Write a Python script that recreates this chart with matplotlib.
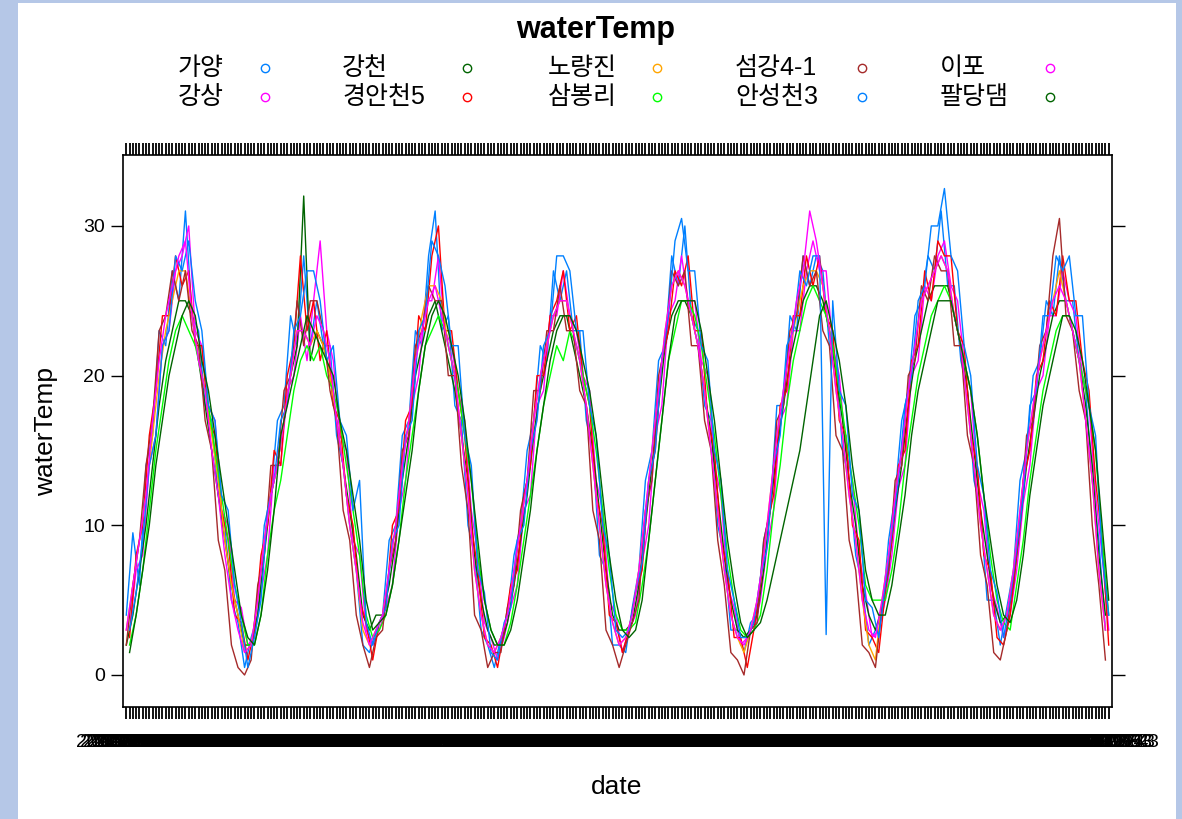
import matplotlib
matplotlib.use("Agg")
import matplotlib.pyplot as plt
from matplotlib.lines import Line2D
from matplotlib.patches import Rectangle
import numpy as np
import pandas as pd

plt.rcParams['font.family'] = ['Liberation Sans', 'Noto Sans CJK KR']

# factor levels of the date axis (every level gets a tick + label)
dates = pd.date_range("2012-03-05", "2019-12-23", periods=300).strftime("%Y-%m-%d")

# water temperature per station, one value every second date level
gayang = [4, 9.5, 6, 14, 16, 23, 22, 27, 25, 31, 24, 23, 18, 17, 12, 10, 5, 3.5, 0.5,
          2.5, 4, 10, 12, 17, 18, 24, 22, 28, 22, 25, 22, 22, 16, 14, 10, 7, 2, 1.5,
          3, 4, 9, 10, 16, 17, 23, 22, 28, 31, 23, 24, 18, 17, 10, 8, 3, 2, 0.5,
          2.5, 4, 8, 10, 15, 17, 22, 21, 27, 25, 27, 23, 23, 17, 15, 8, 7, 2, 2, 1.5,
          4.5, 7, 13, 15, 21, 22, 28, 26, 30, 24, 23, 18, 17, 10, 8, 3, 3, 1.5, 3.5,
          4, 9, 11, 18, 18, 24, 23, 28, 26, 28, 27, 22, 21, 15, 13, 8, 6, 2, 3, 4,
          9, 12, 17, 19, 24, 25, 28, 27, 31, 26, 26, 21, 19, 13, 11, 5, 5, 2, 4.5,
          7, 13, 15, 20, 21, 25, 24, 28, 25, 25, 21, 19, 13, 9, 3]
gangsang = [3, 7, 8, 14, 16, 22, 23, 27, 28, 30, 23, 22, 18, 17, 11, 10, 5, 4.5, 2,
            2.5, 5.5, 8, 14, 14, 19, 20, 24, 21, 25, 29, 23, 21, 16, 15, 9, 8, 3, 2,
            3, 4.5, 6, 11, 13, 18, 20, 25, 25, 28, 23, 22, 19, 17, 11, 8, 3.5, 2.5, 1,
            2.5, 4.5, 6, 11, 12, 18, 19, 24, 24, 27, 24, 23, 20, 19, 13, 11, 5, 4, 1.5, 3,
            4, 7.5, 10, 16, 18, 24, 25, 28, 25, 25, 21, 20, 14, 12, 6, 4.5, 2, 2.5, 3,
            5, 8.5, 11, 17, 18, 23, 23, 27, 29, 27, 27, 22, 20, 15, 13, 8, 5.5, 2.5, 3, 5,
            8, 12.5, 14, 20, 21, 26, 25, 28, 29, 26, 25, 21, 19, 13, 11, 6, 4.5, 2.5, 4,
            7, 11.5, 14, 19, 20, 24, 24, 27, 25, 24, 20, 18, 12, 8, 3]
gangcheon = [2, 4, 7, 10, 14, 18, 21, 23, 25, 25, 24, 21, 18, 15, 12, 9, 6, 4, 2,
             2, 4, 8, 12, 14, 17, 20, 22, 32, 21, 23, 22, 20, 17, 14, 11, 8, 4, 3,
             4, 4, 6, 9, 13, 16, 20, 22, 24, 25, 23, 21, 19, 16, 13, 8, 5, 3, 2,
             2, 3.5, 6, 9, 12, 16, 19, 21, 23, 24, 24, 22, 20, 18, 15, 11, 7, 4, 3, 3,
             3.5, 6, 10, 14, 18, 22, 24, 25, 25, 24, 22, 19, 16, 12, 8, 5, 3, 2.5, 3,
             4, 7, 11, 15, 18, 21, 23, 25, 26, 26, 25, 23, 20, 17, 13, 10, 6, 4, 3, 4.5,
             7, 11, 14, 18, 21, 23, 25, 26, 26, 26, 24, 22, 19, 15, 11, 8, 5, 3.5, 4,
             6, 10, 14, 17, 20, 22, 24, 25, 25, 23, 21, 18, 14, 8, 4]
gyeongan5 = [2.5, 8, 10, 16, 19, 24, 24, 28, 26, 27, 22, 22, 17, 16, 11, 9, 4, 3.5, 1,
             3, 8, 10, 15, 14, 20, 22, 28, 23, 25, 21, 23, 18, 17, 12, 10, 5, 3.5, 1,
             3.5, 4.5, 10, 11, 17, 18, 24, 23, 28, 30, 23, 23, 19, 16, 10, 7, 2.5, 2, 0.5,
             3, 6, 7, 12, 14, 20, 20, 24, 25, 27, 23, 24, 20, 18, 12, 10, 4, 3.5, 1.5, 3,
             5.5, 7, 13, 15, 21, 23, 27, 26, 28, 23, 23, 17, 15, 9, 7, 2.5, 2.5, 0.5, 3,
             6, 10, 12, 18, 19, 24, 24, 28, 26, 28, 24, 23, 17, 16, 10, 9, 3, 2.5, 1.5, 5.5,
             9, 14, 15, 21, 22, 27, 25, 29, 28, 28, 23, 22, 16, 14, 8, 7, 2.5, 2, 4,
             8, 13, 15, 20, 21, 25, 24, 28, 25, 25, 21, 19, 13, 9, 2]
noryangjin = [3, 6, 9, 12, 16, 20, 23, 25, 27, 27, 24, 21, 19, 16, 13, 9, 6, 4, 1.5,
              2, 5, 9, 12, 14, 17, 20, 23, 23, 22, 23, 22, 20, 17, 14, 10, 7, 3, 2,
              3, 4, 7, 10, 14, 17, 21, 24, 26, 26, 25, 22, 20, 16, 12, 7, 4, 2, 1.5,
              2.5, 4, 7, 10, 13, 17, 20, 22, 24, 25, 25, 23, 21, 18, 14, 10, 6, 3.5, 2, 2.5,
              4, 7, 11, 15, 19, 23, 26, 27, 26, 24, 22, 19, 15, 11, 7, 4, 2.5, 1.5, 3,
              5, 8, 12, 16, 19, 22, 24, 26, 27, 27, 26, 23, 19, 16, 12, 9, 5, 2, 1, 5,
              8, 12, 15, 19, 22, 25, 26, 27, 28, 27, 24, 22, 18, 14, 10, 7, 4, 3, 4,
              7, 11, 15, 18, 21, 23, 25, 27, 25, 23, 21, 17, 13, 7, 3]
sambong = [2, 4, 7, 11, 15, 18, 21, 23, 24, 23, 22, 20, 18, 15, 12, 9, 6, 4, 2,
           2, 4, 8, 11, 13, 16, 19, 21, 22, 21, 22, 20, 19, 17, 14, 11, 8, 4, 2.5,
           3, 4, 6, 9, 13, 16, 19, 22, 23, 24, 23, 21, 19, 16, 13, 8, 5, 3, 2,
           2, 3.5, 6, 9, 12, 15, 18, 20, 22, 21, 23, 22, 20, 18, 15, 11, 7, 4, 3, 3,
           3.5, 6, 9, 13, 17, 21, 23, 25, 25, 24, 22, 19, 16, 12, 8, 5, 3, 2.5, 3,
           4, 7, 11, 14, 18, 21, 23, 25, 26, 25, 24, 22, 19, 16, 13, 10, 6, 5, 5, 5,
           7, 10, 14, 17, 20, 22, 24, 25, 26, 25, 23, 21, 19, 16, 12, 8, 5, 3.5, 3,
           6, 9, 13, 16, 19, 21, 23, 24, 24, 22, 20, 18, 15, 9, 4]
seomgang41 = [2, 6, 9, 14, 17, 23, 24, 27, 25, 27, 23, 22, 17, 15, 9, 7, 2, 0.5, 0,
              1, 6, 8, 14, 14, 19, 20, 25, 22, 25, 25, 23, 19, 17, 11, 9, 4, 2, 0.5,
              2.5, 3, 7, 9, 15, 16, 22, 23, 26, 25, 25, 20, 20, 14, 11, 4, 3, 0.5, 1.5,
              1.5, 4.5, 6, 11, 13, 19, 19, 23, 23, 26, 23, 23, 19, 18, 11, 9, 3, 2, 0.5, 2,
              3.5, 5, 11, 13, 20, 22, 27, 26, 27, 22, 22, 17, 15, 9, 6, 1.5, 1, 0, 3,
              3.5, 9, 11, 17, 18, 23, 24, 28, 26, 27, 23, 22, 16, 15, 9, 7, 2, 1.5, 0.5, 4.5,
              7, 13, 14, 20, 21, 26, 25, 28, 27, 27, 22, 22, 16, 14, 8, 6, 1.5, 1, 3,
              6.5, 10, 16, 17, 22, 23, 28, 30.5, 24, 23, 19, 17, 10, 6, 1]
anseong3 = [3, 5.5, 9, 14, 16, 22, 23, 28, 27, 29, 25, 23, 18, 17, 12, 11, 6, 3.5, 0.5,
            2.5, 5, 11, 13, 17, 18, 23, 24, 27, 27, 25, 21, 22, 17, 16, 11, 13, 3.5, 2,
            3.5, 4.5, 9, 10, 16, 17, 23, 24, 29, 28, 26, 22, 22, 16, 14, 7, 5.5, 1.5, 1,
            3.5, 4.5, 9, 10, 15, 17, 22, 23, 28, 28, 27, 23, 23, 18, 16, 10, 8, 3, 2.5, 3,
            5.5, 7.5, 13, 15, 21, 24, 29, 30.5, 27, 27, 22, 21, 15, 13, 7, 5, 2.5, 2.5, 3.5,
            6.5, 8.5, 14, 16, 22, 23, 27, 26, 28, 28, 2.7, 25, 19, 18, 12, 11, 5, 4.5, 2.5, 6,
            9.5, 13, 18, 20, 25, 26, 30, 30, 32.5, 28, 27, 22, 20, 14, 12, 7, 5.5, 2.5, 5,
            8.5, 12, 18, 19, 24, 24, 28, 27, 28, 24, 24, 18, 16, 8, 4]
ipo = [3, 6, 9, 12, 17, 21, 24, 26, 28, 29, 24, 21, 19, 15, 12, 8, 5, 3, 1.5,
       2, 5, 9, 12, 14, 17, 20, 23, 23, 22, 24, 23, 21, 17, 14, 10, 7, 3.5, 2,
       3, 4, 7, 10, 14, 17, 21, 23, 25, 26, 24, 22, 20, 16, 12, 7, 4, 2, 1.5,
       2.5, 4, 7, 10, 13, 17, 20, 22, 24, 25, 25, 23, 21, 18, 14, 10, 6, 3.5, 2, 2.5,
       4, 7, 11, 15, 19, 23, 26, 27, 26, 24, 22, 19, 15, 11, 7, 4, 2.5, 2, 3,
       5, 8, 12, 16, 19, 22, 25, 27, 31, 29, 26, 23, 19, 16, 12, 9, 5, 3, 2.5, 5,
       8, 12, 15, 19, 22, 25, 26, 27, 28, 27, 24, 22, 18, 14, 10, 7, 4, 3, 4,
       7, 11, 15, 18, 21, 23, 25, 26, 25, 23, 21, 17, 13, 7, 3]
paldang = [1.5, 4, 7, 10, 14, 17, 20, 22, 24, 25, 24, 21, 19, 16, 13, 10, 7, 4, 2.5,
           2, 4, 7, 11, 16, 18, 20, 22, 24, 23, 22, 21, 20, 17, 15, 12, 9, 5, 3,
           3.5, 4, 6, 9, 12, 15, 19, 22, 24, 25, 24, 22, 20, 17, 13, 9, 5, 3, 2,
           2, 3, 5, 8, 11, 15, 18, 21, 23, 24, 24, 23, 21, 19, 16, 12, 8, 5, 3, 2.5,
           3, 5, 9, 13, 17, 21, 24, 25, 25, 25, 23, 20, 17, 13, 9, 6, 3.5, 2.5, 3,
           3.5, 5, 7, 9, 11, 13, 15, 18, 21, 24, 25, 23, 21, 18, 14, 11, 7, 5, 4, 4,
           6, 9, 12, 16, 19, 21, 23, 25, 25, 25, 23, 21, 19, 16, 12, 9, 6, 4, 3.5,
           5, 8, 12, 15, 18, 20, 22, 24, 24, 23, 21, 18, 15, 10, 5]

names = ["가양", "강상", "강천", "경안천5", "노량진", "삼봉리", "섬강4-1", "안성천3", "이포", "팔당댐"]
series = [gayang, gangsang, gangcheon, gyeongan5, noryangjin, sambong, seomgang41, anseong3, ipo, paldang]
offsets = [0, 1, 0, 1, 0, 1, 0, 1, 0, 1]
cols = ["#0080ff", "#ff00ff", "darkgreen", "#ff0000", "orange", "#00ff00", "brown",
        "#0080ff", "#ff00ff", "darkgreen"]

W, H = 1182, 819
fig = plt.figure(figsize=(W / 100, H / 100), dpi=100)
fig.patch.set_facecolor("#b5c7e7")
fig.add_artist(Rectangle((18 / W, 0), 1158 / W, 816 / H, transform=fig.transFigure,
                         facecolor="white", edgecolor="none", zorder=-10))

ax = fig.add_axes([123 / W, 1 - 707 / H, 989 / W, 552 / H])
for vals, off, c in zip(series, offsets, cols):
    xs = np.arange(len(vals)) * 2 + off
    ax.plot(xs, vals, color=c, lw=1.0)

ax.set_xlim(-1, 300)
ax.set_ylim(-2.14, 34.74)
ax.set_xticks(range(len(dates)))
ax.set_xticklabels(dates, fontsize=14)
ax.set_yticks([0, 10, 20, 30])
ax.tick_params(axis="x", direction="out", length=8.5, width=1.3, color="black", top=True, pad=11)
ax.tick_params(axis="y", direction="out", length=9, width=1, right=True, labelsize=14, pad=4)
for s in ax.spines.values():
    s.set_linewidth(1.2)

fig.text(596 / W, 1 - 30 / H, "waterTemp", ha="center", va="center", fontsize=22, fontweight="bold")
fig.text(617 / W, 1 - 787 / H, "date", ha="center", va="center", fontsize=19)
fig.text(46 / W, 1 - 432 / H, "waterTemp", ha="center", va="center", fontsize=19, rotation=90)

# legend: 5 columns x 2 rows, text then an open circle
text_x = [178, 342, 548, 735, 940]
mark_x = [265, 467, 657, 862, 1050]
row_y = [68, 97]
for k, (nm, c) in enumerate(zip(names, cols)):
    col, row = k // 2, k % 2
    fig.text(text_x[col] / W, 1 - row_y[row] / H, nm, ha="left", va="center", fontsize=18)
    fig.add_artist(Line2D([mark_x[col] / W], [1 - row_y[row] / H], transform=fig.transFigure,
                          marker="o", ms=6, mfc="none", mec=c, mew=1, ls="none"))

fig.savefig("out.png", dpi=100)
